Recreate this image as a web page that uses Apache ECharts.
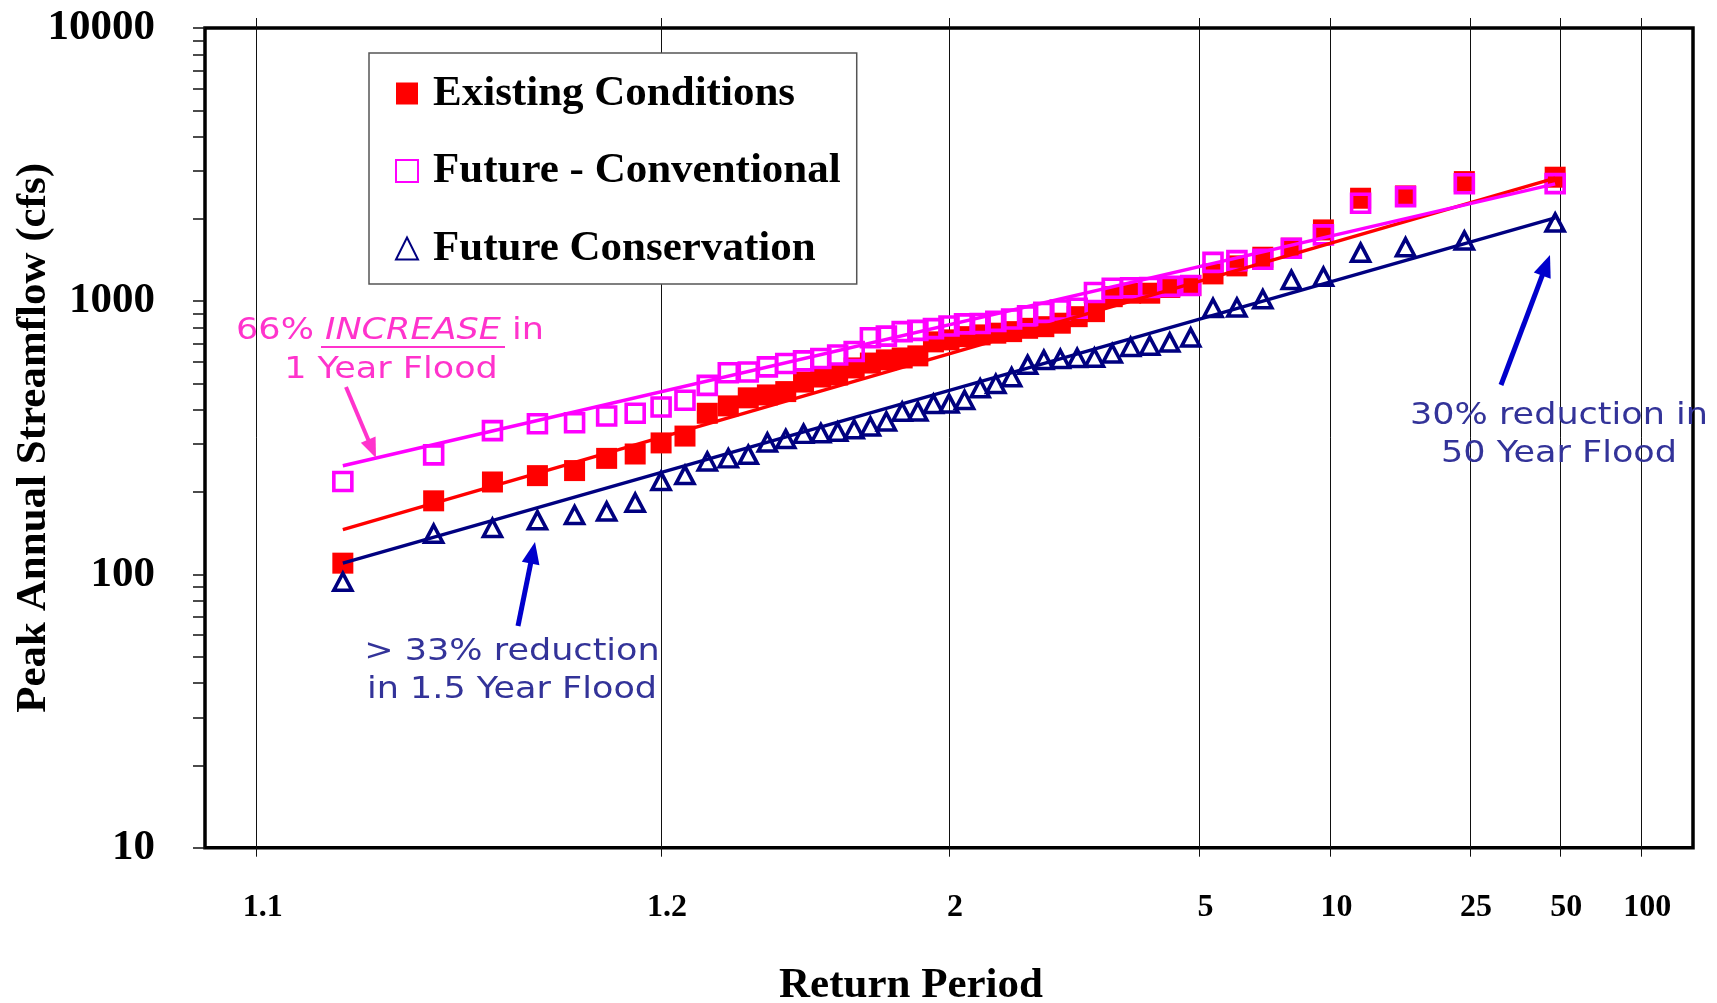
<!DOCTYPE html>
<html>
<head>
<meta charset="utf-8">
<script src="https://cdn.jsdelivr.net/npm/echarts@6/dist/echarts.min.js"></script>
<style>
  html, body { margin: 0; padding: 0; background: #ffffff; }
  #chart { width: 1717px; height: 1003px; }
</style>
</head>
<body>
<div id="chart"></div>
<script>
// Annual peak streamflow (cfs), 47 years of record, ranked smallest to largest
const existingConditions = [110, 186, 218, 230, 240, 266, 276, 303, 321, 389, 414, 443, 454, 467, 506, 528, 537, 570, 594, 610, 620, 631, 710, 722, 742, 753, 764, 774, 796, 807, 831, 878, 916, 1039, 1070, 1070, 1123, 1142, 1259, 1347, 1449, 1563, 1824, 2382, 2429, 2741, 2844];
const futureConventional = [219, 274, 336, 356, 359, 380, 389, 410, 434, 492, 547, 551, 575, 592, 605, 617, 636, 655, 735, 745, 774, 782, 794, 812, 826, 829, 844, 861, 884, 910, 929, 943, 1077, 1116, 1120, 1123, 1133, 1142, 1387, 1408, 1425, 1563, 1749, 2284, 2415, 2690, 2695];
const futureConservation = [94, 141, 148, 158, 165, 170, 183, 220, 231, 259, 266, 274, 304, 313, 327, 329, 333, 340, 348, 363, 394, 395, 421, 422, 435, 480, 498, 527, 585, 610, 615, 620, 621, 644, 680, 687, 707, 737, 945, 948, 1017, 1197, 1230, 1506, 1576, 1667, 1940];

// Fitted lognormal lines: flow at the smallest and at the largest plotting position
const existingTrend = [146, 2820];
const conventionalTrend = [250, 2690];
const conservationTrend = [110, 2018];

// Return-period gridlines (exceedance probability) and their labels
const tickExceedance = [0.99, 1 / 1.2, 0.5, 0.2, 0.1, 0.04, 0.02, 0.01];
const tickLabels = ['1.1', '1.2', '2', '5', '10', '25', '50', '100'];

// Flow axis labels
const flowTicks = [10, 100, 1000, 10000];

// Standard normal quantile (Acklam's rational approximation)
function probit(p) {
  const a = [-3.969683028665376e+01, 2.209460984245205e+02, -2.759285104469687e+02, 1.383577518672690e+02, -3.066479806614716e+01, 2.506628277459239e+00];
  const b = [-5.447609879822406e+01, 1.615858368580409e+02, -1.556989798598866e+02, 6.680131188771972e+01, -1.328068155288572e+01];
  const c = [-7.784894002430293e-03, -3.223964580411365e-01, -2.400758277161838e+00, -2.549732539343734e+00, 4.374664141464968e+00, 2.938163982698783e+00];
  const d = [7.784695709041462e-03, 3.224671290700398e-01, 2.445134137142996e+00, 3.754408661907416e+00];
  const plow = 0.02425, phigh = 1 - plow;
  let q, r;
  if (p < plow) {
    q = Math.sqrt(-2 * Math.log(p));
    return (((((c[0] * q + c[1]) * q + c[2]) * q + c[3]) * q + c[4]) * q + c[5]) / ((((d[0] * q + d[1]) * q + d[2]) * q + d[3]) * q + 1);
  }
  if (p > phigh) {
    q = Math.sqrt(-2 * Math.log(1 - p));
    return -(((((c[0] * q + c[1]) * q + c[2]) * q + c[3]) * q + c[4]) * q + c[5]) / ((((d[0] * q + d[1]) * q + d[2]) * q + d[3]) * q + 1);
  }
  q = p - 0.5; r = q * q;
  return (((((a[0] * r + a[1]) * r + a[2]) * r + a[3]) * r + a[4]) * r + a[5]) * q / (((((b[0] * r + b[1]) * r + b[2]) * r + b[3]) * r + b[4]) * r + 1);
}

// Weibull plotting position: non-exceedance (i+1)/(n+1) on a normal probability scale
function plottingZ(n) {
  const out = [];
  for (let i = 0; i < n; i++) out.push(probit((i + 1) / (n + 1)));
  return out;
}
const zPos = plottingZ(existingConditions.length);
const pairs = (vals) => vals.map((v, i) => [zPos[i], v]);
const trendPairs = (ends) => [[zPos[0], ends[0]], [zPos[zPos.length - 1], ends[1]]];

const tickZ = tickExceedance.map(q => probit(1 - q));
function labelForZ(v) {
  let best = 0;
  for (let j = 1; j < tickZ.length; j++) if (Math.abs(tickZ[j] - v) < Math.abs(tickZ[best] - v)) best = j;
  return tickLabels[best];
}

// Log-axis tick marks at 1..9 x each decade
const flowTickMarks = [];
for (let k = 0; k < flowTicks.length - 1; k++) {
  for (let m = 1; m < 10; m++) flowTickMarks.push(flowTicks[k] * m);
}
flowTickMarks.push(flowTicks[flowTicks.length - 1]);

const SERIF = "'Liberation Serif', 'Times New Roman', serif";
const SANS = "'DejaVu Sans', Verdana, sans-serif";
const RED = '#ff0000', MAGENTA = '#ff00ff', NAVY = '#000080';
const PINK = '#ff33cc', NOTE_BLUE = '#333399', ARROW_BLUE = '#0000cc';

function arrow(x1, y1, x2, y2, color, w, hl, hw) {
  const dx = x2 - x1, dy = y2 - y1, L = Math.hypot(dx, dy);
  const ux = dx / L, uy = dy / L, px = -uy, py = ux;
  const bx = x2 - ux * hl, by = y2 - uy * hl;
  return [
    { type: 'line', shape: { x1: x1, y1: y1, x2: bx + ux * 2, y2: by + uy * 2 }, style: { stroke: color, lineWidth: w }, z: 50 },
    { type: 'polygon', shape: { points: [[x2, y2], [bx + px * hw / 2, by + py * hw / 2], [bx - px * hw / 2, by - py * hw / 2]] }, style: { fill: color }, z: 50 }
  ];
}
function note(text, x, y, color, rich) {
  return {
    type: 'text', x: x, y: y, scaleX: 1.13, z: 50,
    style: { text: text, fill: color, fontSize: 31, fontFamily: SANS, align: 'center', verticalAlign: 'middle', rich: rich }
  };
}

const chart = echarts.init(document.getElementById('chart'), null, { renderer: 'canvas' });
chart.setOption({
  backgroundColor: '#ffffff',
  animation: false,
  grid: {
    left: 205, right: 24, top: 28, bottom: 155.3, containLabel: false, outerBoundsMode: 'none',
    show: true, borderColor: '#000', borderWidth: 3.5, backgroundColor: 'transparent'
  },
  legend: {
    data: ['Existing Conditions', 'Future - Conventional', 'Future Conservation'],
    orient: 'vertical', left: 369, top: 53,
    backgroundColor: '#ffffff', borderColor: '#555', borderWidth: 1.5, borderRadius: 0,
    padding: [19, 16, 14, 26],
    itemWidth: 22, itemHeight: 22, itemGap: 34.5,
    textStyle: { fontFamily: SERIF, fontWeight: 'bold', fontSize: 43, lineHeight: 43, color: '#000', padding: [0, 0, 0, 10] }
  },
  xAxis: [{
    type: 'value', min: -2.5, max: 2.5, position: 'bottom',
    axisLine: { show: false, onZero: false },
    axisTick: { show: true, customValues: tickZ, length: 9, inside: false, lineStyle: { color: '#111', width: 1 } },
    splitLine: { show: true, lineStyle: { color: '#111', width: 1 } },
    axisLabel: { customValues: tickZ, formatter: labelForZ, margin: 44, fontFamily: SERIF, fontWeight: 'bold', fontSize: 32, color: '#000', padding: [0, 0, 0, 12] },
    name: 'Return Period', nameLocation: 'middle', nameGap: 117, nameMoveOverlap: false,
    nameTextStyle: { fontFamily: SERIF, fontWeight: 'bold', fontSize: 43, color: '#000', padding: [0, 76, 0, 0] }
  }, {
    type: 'value', min: -2.5, max: 2.5, position: 'top',
    axisLine: { show: false, onZero: false },
    axisTick: { show: true, customValues: tickZ, length: 10, inside: false, lineStyle: { color: '#111', width: 1 } },
    splitLine: { show: false },
    axisLabel: { show: false }
  }],
  yAxis: {
    type: 'log', logBase: 10, min: 10, max: 10000, position: 'left',
    axisLine: { show: false, onZero: false },
    axisTick: { show: true, customValues: flowTickMarks, length: 12, inside: false, lineStyle: { color: '#111', width: 1.5 } },
    minorTick: { show: false },
    splitLine: { show: false },
    axisLabel: { customValues: flowTicks, formatter: (v) => String(Math.round(v)), margin: 50, fontFamily: SERIF, fontWeight: 'bold', fontSize: 43, color: '#000' },
    name: 'Peak Annual Streamflow (cfs)', nameLocation: 'middle', nameGap: 150, nameMoveOverlap: false,
    nameTextStyle: { fontFamily: SERIF, fontWeight: 'bold', fontSize: 43, color: '#000' }
  },
  series: [
    {
      name: 'Existing Conditions', type: 'scatter', symbol: 'rect', symbolSize: 21,
      itemStyle: { color: RED, borderWidth: 0, opacity: 1 }, data: pairs(existingConditions), z: 3
    },
    {
      name: 'Future - Conventional', type: 'scatter', symbol: 'rect', symbolSize: 18,
      itemStyle: { color: 'rgba(255,255,255,0)', borderColor: MAGENTA, borderWidth: 3.6, opacity: 1 }, data: pairs(futureConventional), z: 4
    },
    {
      name: 'Future Conservation', type: 'scatter', symbol: 'triangle', symbolSize: [18, 17],
      itemStyle: { color: 'rgba(255,255,255,0)', borderColor: NAVY, borderWidth: 3.6, opacity: 1 }, data: pairs(futureConservation), z: 4
    },
    {
      name: 'Existing trend', type: 'line', symbol: 'none', silent: true,
      lineStyle: { color: RED, width: 3.4 }, data: trendPairs(existingTrend), z: 5
    },
    {
      name: 'Conventional trend', type: 'line', symbol: 'none', silent: true,
      lineStyle: { color: MAGENTA, width: 3.4 }, data: trendPairs(conventionalTrend), z: 5
    },
    {
      name: 'Conservation trend', type: 'line', symbol: 'none', silent: true,
      lineStyle: { color: NAVY, width: 3.4 }, data: trendPairs(conservationTrend), z: 5
    }
  ],
  graphic: {
    elements: [
      note('66% {i|INCREASE} in', 390, 331, PINK, { i: { fontStyle: 'italic', fontSize: 31, fontFamily: SANS, fill: PINK } }),
      { type: 'line', shape: { x1: 321, y1: 347, x2: 505, y2: 347 }, style: { stroke: PINK, lineWidth: 2 }, z: 50 },
      note('1 Year Flood', 391, 370, PINK),
      note('> 33% reduction', 512, 652, NOTE_BLUE),
      note('in 1.5 Year Flood', 512, 690, NOTE_BLUE),
      note('30% reduction in', 1559, 416, NOTE_BLUE),
      note('50 Year Flood', 1559, 454, NOTE_BLUE)
    ]
      .concat(arrow(346, 387, 376, 458, PINK, 4, 20, 16))
      .concat(arrow(518, 626, 535, 542, ARROW_BLUE, 5, 22, 18))
      .concat(arrow(1501, 385, 1550, 255, ARROW_BLUE, 5, 22, 18))
  }
});
</script>
</body>
</html>
